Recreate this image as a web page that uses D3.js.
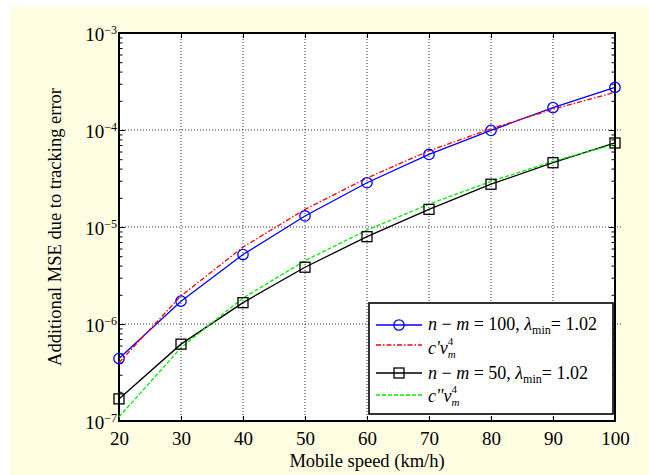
<!DOCTYPE html>
<html>
<head>
<meta charset="utf-8">
<script src="https://cdn.jsdelivr.net/npm/d3@7"></script>
<style>
body { margin: 0; background: #fff; }
text { font-family: "Liberation Serif", "Times New Roman", serif; fill: #000; }
</style>
</head>
<body>
<svg id="chart" width="649" height="475"></svg>
<script>
// datos
const speeds = [20, 30, 40, 50, 60, 70, 80, 90, 100];
const mse100 = [4.4e-7, 1.72e-6, 5.2e-6, 1.30e-5, 2.86e-5, 5.6e-5, 9.9e-5, 1.70e-4, 2.75e-4];
const approx100 = [4.0e-7, 1.95e-6, 6.2e-6, 1.52e-5, 3.2e-5, 6.1e-5, 1.03e-4, 1.64e-4, 2.45e-4];
const mse50 = [1.69e-7, 6.2e-7, 1.66e-6, 3.85e-6, 7.95e-6, 1.52e-5, 2.76e-5, 4.6e-5, 7.35e-5];
const approx50 = [1.1e-7, 5.7e-7, 1.85e-6, 4.5e-6, 9.3e-6, 1.72e-5, 2.95e-5, 4.75e-5, 7.15e-5];
const xTicks = [20, 30, 40, 50, 60, 70, 80, 90, 100];
const yExps = [-7, -6, -5, -4, -3];

const svg = d3.select("#chart");

// fondo crema
svg.append("rect")
    .attr("x", 10).attr("y", 7)
    .attr("width", 639).attr("height", 468)
    .attr("fill", "#fffde2");

const mLeft = 119, mRight = 615, mTop = 33, mBottom = 421;

const x = d3.scaleLinear().domain([20, 100]).range([mLeft, mRight]);
const y = d3.scaleLog().domain([1e-7, 1e-3]).range([mBottom, mTop]);

svg.append("rect")
    .attr("x", mLeft).attr("y", mTop)
    .attr("width", mRight - mLeft).attr("height", mBottom - mTop)
    .attr("fill", "#fff");

// rejilla punteada
const grid = svg.append("g")
    .attr("stroke", "#000")
    .attr("stroke-width", 0.8)
    .attr("stroke-dasharray", "1,2");

grid.selectAll(".gx")
    .data(xTicks.slice(1, -1))
    .enter().append("line")
    .attr("x1", d => x(d)).attr("x2", d => x(d))
    .attr("y1", mTop).attr("y2", mBottom);

grid.selectAll(".gy")
    .data(yExps.slice(1, -1))
    .enter().append("line")
    .attr("x1", mLeft).attr("x2", mRight + 8)
    .attr("y1", d => y(Math.pow(10, d))).attr("y2", d => y(Math.pow(10, d)));

// marcas menores del eje log
const minors = [];
yExps.slice(0, -1).forEach(function(e) {
    for (let k = 2; k <= 9; k++) minors.push(k * Math.pow(10, e));
});
const majors = yExps.map(e => Math.pow(10, e));

function cleanAxis(g) {
    g.select(".domain").remove();
    g.selectAll("line").attr("stroke", "#000").attr("stroke-width", 1);
}

svg.append("g")
    .attr("transform", `translate(0,${mBottom})`)
    .call(d3.axisBottom(x).tickValues(xTicks).tickSize(-5).tickPadding(11).tickFormat(d => d))
    .call(cleanAxis)
    .selectAll("text")
    .attr("font-size", 19)
    .attr("font-family", "Liberation Serif, serif");

svg.append("g")
    .attr("transform", `translate(0,${mTop})`)
    .call(d3.axisTop(x).tickValues(xTicks).tickSize(-5).tickFormat(""))
    .call(cleanAxis);

svg.append("g")
    .attr("transform", `translate(${mLeft},0)`)
    .call(d3.axisLeft(y).tickValues(majors).tickSize(-6).tickFormat(""))
    .call(cleanAxis);
svg.append("g")
    .attr("transform", `translate(${mLeft},0)`)
    .call(d3.axisLeft(y).tickValues(minors).tickSize(-3.5).tickFormat(""))
    .call(cleanAxis);
svg.append("g")
    .attr("transform", `translate(${mRight},0)`)
    .call(d3.axisRight(y).tickValues(majors).tickSize(-6).tickFormat(""))
    .call(cleanAxis);
svg.append("g")
    .attr("transform", `translate(${mRight},0)`)
    .call(d3.axisRight(y).tickValues(minors).tickSize(-3.5).tickFormat(""))
    .call(cleanAxis);

// etiquetas 10^n
const yLab = svg.selectAll(".ylab")
    .data(yExps)
    .enter().append("text")
    .attr("x", mLeft - 2)
    .attr("y", d => y(Math.pow(10, d)) + 8)
    .attr("text-anchor", "end")
    .attr("font-size", 19);
yLab.append("tspan").text("10");
yLab.append("tspan")
    .attr("font-size", 12)
    .attr("dy", -7)
    .text(d => "\u2212" + Math.abs(d));

// marco de los ejes
svg.append("rect")
    .attr("x", mLeft).attr("y", mTop)
    .attr("width", mRight - mLeft).attr("height", mBottom - mTop)
    .attr("fill", "none")
    .attr("stroke", "#000")
    .attr("stroke-width", 2);

// títulos de ejes
svg.append("text")
    .attr("x", (mLeft + mRight) / 2)
    .attr("y", 467)
    .attr("text-anchor", "middle")
    .attr("font-size", 18.5)
    .text("Mobile speed (km/h)");

svg.append("text")
    .attr("transform", "rotate(-90)")
    .attr("x", -(mTop + mBottom) / 2)
    .attr("y", 61)
    .attr("text-anchor", "middle")
    .attr("font-size", 18.5)
    .text("Additional MSE due to tracking error");

// series
const series = [
    { vals: mse100, color: "#0000ff", dash: null, marker: "circle" },
    { vals: approx100, color: "#ff0000", dash: "5,2,1.5,2", marker: null },
    { vals: mse50, color: "#000000", dash: null, marker: "square" },
    { vals: approx50, color: "#00ee00", dash: "4,2", marker: null }
];

const line = d3.line()
    .x((d, i) => x(speeds[i]))
    .y(d => y(d));

series.forEach(function(s) {
    svg.append("path")
        .datum(s.vals)
        .attr("fill", "none")
        .attr("stroke", s.color)
        .attr("stroke-width", 1.3)
        .attr("stroke-dasharray", s.dash)
        .attr("d", line);
});

function drawMarker(g, kind, cx, cy, color) {
    if (kind === "circle") {
        g.append("circle")
            .attr("cx", cx).attr("cy", cy).attr("r", 5.2)
            .attr("fill", "none").attr("stroke", color).attr("stroke-width", 1.3);
    } else if (kind === "square") {
        g.append("rect")
            .attr("x", cx - 5).attr("y", cy - 5)
            .attr("width", 10).attr("height", 10)
            .attr("fill", "none").attr("stroke", color).attr("stroke-width", 1.3);
    }
}

series.forEach(function(s) {
    if (!s.marker) return;
    const g = svg.append("g");
    s.vals.forEach((v, i) => drawMarker(g, s.marker, x(speeds[i]), y(v), s.color));
});

// leyenda
const leg = svg.append("g");
leg.append("rect")
    .attr("x", 369).attr("y", 303)
    .attr("width", 244).attr("height", 111)
    .attr("fill", "#fff")
    .attr("stroke", "#000")
    .attr("stroke-width", 1.6);

const legRows = [0, 1, 2, 3].map(i => ({ s: series[i], ly: [325, 345, 373, 395][i], ty: [330, 354, 379, 402][i] }));

legRows.forEach(function(r) {
    leg.append("line")
        .attr("x1", 376).attr("x2", 422)
        .attr("y1", r.ly).attr("y2", r.ly)
        .attr("stroke", r.s.color)
        .attr("stroke-width", 1.3)
        .attr("stroke-dasharray", r.s.dash);
    drawMarker(leg, r.s.marker, 399, r.ly, r.s.color);
});

function labelNm(t, val) {
    t.append("tspan").attr("font-style", "italic").text("n");
    t.append("tspan").text(" \u2212 ");
    t.append("tspan").attr("font-style", "italic").text("m");
    t.append("tspan").text(" = " + val + ", ");
    t.append("tspan").attr("font-style", "italic").text("\u03bb");
    t.append("tspan").attr("font-size", 12).attr("dy", 3.5).text("min");
    t.append("tspan").attr("dy", -3.5).text("= 1.02");
}

// v_m con el 4 encima del subíndice
function labelC(t, primes) {
    t.append("tspan").attr("font-style", "italic").text("c" + primes + "v");
    t.append("tspan").attr("font-size", 11).attr("font-style", "italic").attr("dy", 4).text("m");
    t.append("tspan").attr("font-size", 11).attr("dx", -8).attr("dy", -13).text("4");
}

const t1 = leg.append("text").attr("x", 428).attr("y", legRows[0].ty).attr("font-size", 18);
labelNm(t1, 100);
const t2 = leg.append("text").attr("x", 428).attr("y", legRows[1].ty).attr("font-size", 18);
labelC(t2, "'");
const t3 = leg.append("text").attr("x", 428).attr("y", legRows[2].ty).attr("font-size", 18);
labelNm(t3, 50);
const t4 = leg.append("text").attr("x", 428).attr("y", legRows[3].ty).attr("font-size", 18);
labelC(t4, "\"");
</script>
</body>
</html>
